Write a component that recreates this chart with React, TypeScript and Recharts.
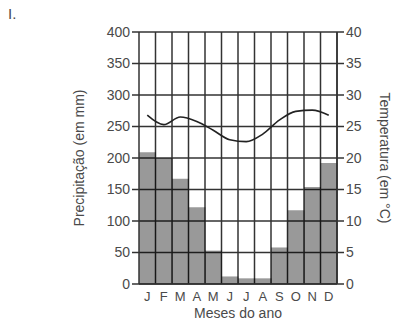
import { Bar, CartesianGrid, ComposedChart, Line, XAxis, YAxis } from "recharts";

const MESES = ["J", "F", "M", "A", "M", "J", "J", "A", "S", "O", "N", "D"];
const PRECIPITACAO = [209, 200, 167, 122, 53, 12, 9, 9, 58, 117, 154, 192];
const TEMPERATURA = [26.8, 25.3, 26.5, 25.8, 24.4, 22.9, 22.6, 23.8, 26, 27.4, 27.6, 26.8];
const TICKS_MM = [0, 50, 100, 150, 200, 250, 300, 350, 400];
const TICKS_C = [0, 5, 10, 15, 20, 25, 30, 35, 40];

const FONTE = "'Liberation Sans', Arial, sans-serif";
const TINTA = "#333";
const TEXTO = "#4a4a4a";

const dados = MESES.map((mes, i) => ({
  idx: i,
  mes,
  chuva: PRECIPITACAO[i],
  temp: TEMPERATURA[i],
}));

export default function App() {
  return (
    <div
      style={{
        position: "absolute",
        left: 0,
        top: 0,
        width: 398,
        height: 327,
        background: "#fff",
        fontFamily: FONTE,
      }}
    >
      <div style={{ position: "absolute", left: 8, top: 5, fontSize: 15, color: TEXTO }}>I.</div>
      <div
        style={{
          position: "absolute",
          left: 79,
          top: 158,
          transform: "translate(-50%, -50%) rotate(-90deg)",
          whiteSpace: "nowrap",
          fontSize: 14,
          color: TEXTO,
        }}
      >
        Precipitação (em mm)
      </div>
      <div
        style={{
          position: "absolute",
          left: 385,
          top: 158,
          transform: "translate(-50%, -50%) rotate(90deg)",
          whiteSpace: "nowrap",
          fontSize: 14,
          color: TEXTO,
        }}
      >
        Temperatura (em °C)
      </div>
      <div
        style={{
          position: "absolute",
          left: 238,
          top: 313,
          transform: "translate(-50%, -50%)",
          whiteSpace: "nowrap",
          fontSize: 14,
          color: TEXTO,
        }}
      >
        Meses do ano
      </div>
      <ComposedChart
        width={398}
        height={327}
        data={dados}
        margin={{ top: 32, right: 0, bottom: 0, left: 0 }}
        barCategoryGap={0}
        style={{ position: "absolute", left: 0, top: 0 }}
      >
        <CartesianGrid
          yAxisId="mm"
          stroke={TINTA}
          strokeWidth={1.5}
          verticalCoordinatesGenerator={({ offset }: any) =>
            MESES.map((_, i) => offset.left + ((i + 1) * offset.width) / 12)
          }
        />
        <XAxis
          dataKey="idx"
          tickFormatter={(i: number) => MESES[i]}
          tickLine={false}
          axisLine={{ stroke: TINTA, strokeWidth: 1.5 }}
          height={43}
          interval={0}
          tick={{ fill: TEXTO, fontSize: 13, fontFamily: FONTE }}
        />
        <YAxis
          yAxisId="mm"
          domain={[0, 400]}
          ticks={TICKS_MM}
          width={139}
          tickSize={7}
          tickLine={{ stroke: TINTA, strokeWidth: 1.5 }}
          axisLine={{ stroke: TINTA, strokeWidth: 1.5 }}
          tick={{ fill: TEXTO, fontSize: 14, fontFamily: FONTE }}
          tickMargin={2}
        />
        <YAxis
          yAxisId="c"
          orientation="right"
          domain={[0, 40]}
          ticks={TICKS_C}
          width={61}
          tickSize={7}
          tickLine={{ stroke: TINTA, strokeWidth: 1.5 }}
          axisLine={{ stroke: TINTA, strokeWidth: 1.5 }}
          tick={{ fill: TEXTO, fontSize: 14, fontFamily: FONTE }}
          tickMargin={2}
        />
        <Bar
          yAxisId="mm"
          dataKey="chuva"
          fill="#000"
          fillOpacity={0.4}
          isAnimationActive={false}
        />
        <Line
          yAxisId="c"
          dataKey="temp"
          type="monotone"
          stroke="#222"
          strokeWidth={1.6}
          dot={false}
          isAnimationActive={false}
        />
      </ComposedChart>
    </div>
  );
}
